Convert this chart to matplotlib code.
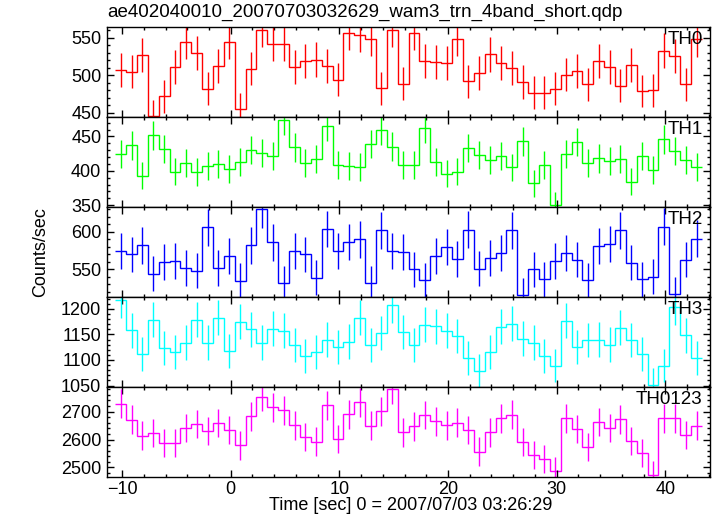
import numpy as np
import matplotlib
matplotlib.use("Agg")
import matplotlib.pyplot as plt
from matplotlib.ticker import MultipleLocator

plt.rcParams['font.family'] = ['Liberation Sans', 'DejaVu Sans']
plt.rcParams['font.size'] = 13

title = "ae402040010_20070703032629_wam3_trn_4band_short.qdp"
xlabel = "Time [sec] 0 = 2007/07/03 03:26:29"
ylabel = "Counts/sec"

# 1 s bins, first bin centre
time_start = -10.125
bin_width = 1.0
n_bins = 54

th0 = [507, 505, 527, 446, 472, 511, 545, 530, 482, 513, 545, 455, 509, 561, 542, 542, 511, 519,
       521, 512, 494, 557, 554, 549, 483, 561, 489, 557, 519, 518, 516, 549, 492, 503, 528, 517,
       510, 491, 477, 477, 482, 501, 506, 488, 519, 511, 486, 514, 479, 480, 533, 526, 488, 548]
th1 = [425, 437, 393, 452, 432, 399, 411, 398, 407, 410, 403, 413, 430, 426, 422, 474, 434, 412,
       417, 465, 409, 407, 406, 439, 459, 435, 409, 409, 462, 413, 396, 399, 433, 423, 416, 422,
       405, 443, 382, 409, 350, 425, 442, 411, 418, 415, 417, 384, 422, 401, 446, 429, 416, 406]
th2 = [575, 570, 582, 544, 560, 561, 552, 548, 606, 552, 568, 535, 582, 630, 586, 532, 575, 570,
       539, 604, 575, 587, 590, 532, 602, 574, 573, 550, 536, 568, 580, 564, 603, 551, 565, 572,
       602, 516, 550, 537, 561, 572, 563, 536, 581, 584, 602, 559, 537, 540, 607, 517, 563, 591]
th3 = [1218, 1158, 1111, 1179, 1123, 1116, 1134, 1179, 1134, 1183, 1118, 1175, 1160, 1134, 1161,
       1157, 1129, 1107, 1115, 1140, 1126, 1136, 1183, 1129, 1153, 1207, 1155, 1129, 1169, 1166,
       1157, 1147, 1103, 1078, 1116, 1165, 1171, 1142, 1134, 1108, 1089, 1177, 1126, 1139, 1140,
       1130, 1163, 1139, 1111, 1051, 1089, 1203, 1148, 1104]
th0123 = [2729, 2671, 2614, 2624, 2588, 2588, 2641, 2656, 2631, 2659, 2634, 2579, 2684, 2753, 2715,
          2705, 2651, 2610, 2593, 2723, 2602, 2690, 2734, 2650, 2701, 2780, 2626, 2647, 2688, 2666,
          2651, 2660, 2634, 2557, 2626, 2677, 2689, 2592, 2544, 2531, 2486, 2677, 2638, 2574, 2663,
          2641, 2673, 2595, 2552, 2473, 2677, 2677, 2617, 2650]

names = ["TH0", "TH1", "TH2", "TH3", "TH0123"]
series = [th0, th1, th2, th3, th0123]
colors = ["#ff0000", "#00ff00", "#0000ff", "#00ffff", "#ff00ff"]
ylims = [(444, 564), (347, 478), (513, 633), (1047, 1223), (2466, 2788)]
majors = [50, 50, 50, 50, 100]
minors = [10, 10, 10, 10, 20]

t = time_start + bin_width * np.arange(n_bins)
edges = np.append(t - bin_width / 2, t[-1] + bin_width / 2)

fig, axes = plt.subplots(5, 1, sharex=True, figsize=(7.17, 5.16), dpi=100)
fig.subplots_adjust(left=0.149, right=0.990, top=0.947, bottom=0.0756, hspace=0)

for ax, name, vals, c, yl, mj, mn in zip(axes, names, series, colors, ylims, majors, minors):
    vals = np.array(vals, dtype=float)
    err = np.sqrt(vals * bin_width) / bin_width  # poisson error
    ax.stairs(vals, edges, color=c, lw=1.0, baseline=None)
    ax.errorbar(t, vals, yerr=err, fmt='none', ecolor=c, elinewidth=1.0)
    ax.set_ylim(*yl)
    ax.set_xlim(-11.4, 44.1)
    ax.yaxis.set_major_locator(MultipleLocator(mj))
    ax.yaxis.set_minor_locator(MultipleLocator(mn))
    ax.xaxis.set_major_locator(MultipleLocator(10))
    ax.xaxis.set_minor_locator(MultipleLocator(2))
    ax.tick_params(which='both', direction='in', top=True, right=True, width=1, pad=4)
    ax.tick_params(which='major', length=5)
    ax.tick_params(which='minor', length=2.5)
    for s in ax.spines.values():
        s.set_linewidth(1)
    ax.text(0.988, 0.86, name, transform=ax.transAxes, ha='right', va='center', fontsize=13.5)

axes[-1].tick_params(axis='x', pad=3)
fig.text(0.573, 0.004, xlabel, ha='center', va='bottom')
fig.text(0.056, 0.512, ylabel, rotation=90, ha='center', va='center')
fig.text(0.150, 1 - 12 / 516, title, ha='left', va='center', fontsize=13.5)

fig.savefig("out.png", dpi=100)
